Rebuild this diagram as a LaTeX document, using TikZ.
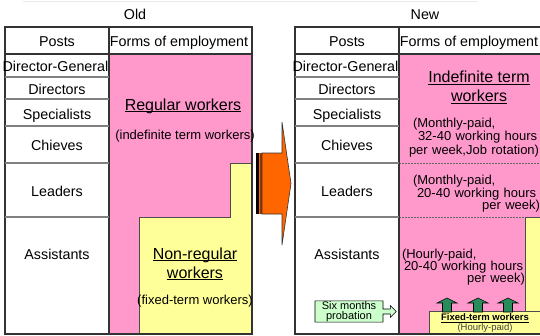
\documentclass[tikz,border=0pt]{standalone}
\usepackage{fontspec}
\setmainfont{Liberation Sans}
\usetikzlibrary{shapes.arrows}
\definecolor{pinkfill}{RGB}{255,153,204}
\definecolor{yellowfill}{RGB}{255,255,153}
\definecolor{orangearr}{RGB}{255,102,0}
\definecolor{greenarr}{RGB}{38,140,92}
\definecolor{greenbox}{RGB}{204,255,204}
\setlength{\lineskiplimit}{-5pt}
\newcommand{\ulined}[2][1.2pt]{\setbox0\hbox{#2}\rlap{\rule[-2.4pt]{\wd0}{#1}}\box0}

\begin{document}
\begin{tikzpicture}[x=1pt,y=-1pt,{frame/.style={draw=black!80,line width=1.2pt}},{rowline/.style={draw=black!50,line width=1.5pt}},{dotline/.style={draw=black!60,line width=1pt,dash pattern=on 1.5pt off 1.5pt}},{lbl/.style={font=\fontsize{14.3}{16}\selectfont,inner sep=0pt,anchor=base}},{big/.style={font=\fontsize{16}{18}\selectfont,inner sep=0pt,anchor=base}},{note/.style={font=\fontsize{13}{12}\selectfont,inner sep=0pt,align=left}},{greenup/.style={fill=greenarr,draw=black,line width=0.6pt}}]
	\useasboundingbox (0,0) rectangle (540,335);
	%%faint rule on top
	\draw [black!8,line width=1pt] (23,1) -- (478,1);
	%%titles
	\node[lbl] (oldTitle) at (135,19.5) {Old};
	\node[lbl] (newTitle) at (425,19.5) {New};

	%%old table
	\fill [pinkfill] (109,54) rectangle (252,334);
	\filldraw [fill=yellowfill,draw=black!70,line width=0.8pt] (139,334) -- (139,217) -- (230,217) -- (230,163) -- (252,163) -- (252,334) -- cycle;
	\draw [frame] (5,27) rectangle (252,334);
	\draw [frame] (5,54) -- (252,54);
	\draw [frame] (109,27) -- (109,334);
	\draw [rowline] (5,77) -- (109,77);
	\draw [rowline] (5,99) -- (109,99);
	\draw [rowline] (5,126) -- (109,126);
	\draw [rowline] (5,163) -- (109,163);
	\draw [rowline] (5,217) -- (109,217);
	\node[lbl] (oldPosts) at (57,46.5) {Posts};
	\node[lbl] (oldForms) at (179,46.5) {Forms of employment};
	\node[lbl] (oldDG) at (55.5,71) {Director-General};
	\node[lbl] (oldDir) at (57,94) {Directors};
	\node[lbl] (oldSpec) at (57,119) {Specialists};
	\node[lbl] (oldChief) at (57,150) {Chieves};
	\node[lbl] (oldLead) at (57,196) {Leaders};
	\node[lbl] (oldAssist) at (57,259) {Assistants};
	\node[big] (oldRegular) at (183,110) {\ulined{Regular workers}};
	\node[lbl,font=\fontsize{13}{14}\selectfont] (oldIndef) at (185,139) {(indefinite term workers)};
	\node[big] (oldNonreg) at (195,259) {\ulined{Non-regular}};
	\node[big] (oldNonregB) at (195,278) {\ulined{workers}};
	\node[lbl,font=\fontsize{13}{14}\selectfont] (oldFixed) at (195,304) {(fixed-term workers)};

	%%arrow between tables
	\fill [black] (256,153) rectangle (259,214);
	\fill [orangearr] (259,153) rectangle (260,214);
	\fill [orangearr!55!black] (260,153) rectangle (262,214);
	\filldraw [fill=orangearr,draw=black!80,line width=0.6pt] (262,153) -- (282,153) -- (282,122) -- (291,183.5) -- (282,245) -- (282,214) -- (262,214) -- cycle;

	%%new table
	\fill [pinkfill] (399,54) rectangle (541,334);
	\draw [dotline] (399,163) -- (541,163);
	\draw [dotline] (399,217) -- (541,217);
	\filldraw [fill=yellowfill,draw=black!70,line width=0.8pt] (525,217) rectangle (541,334);
	\filldraw [fill=yellowfill,draw=black!70,line width=0.8pt] (429,311) rectangle (541,334);
	\draw [frame] (541,27) -- (295,27) -- (295,334) -- (541,334);
	\draw [frame] (295,54) -- (541,54);
	\draw [frame] (399,27) -- (399,334);
	\draw [rowline] (295,77) -- (399,77);
	\draw [rowline] (295,99) -- (399,99);
	\draw [rowline] (295,126) -- (399,126);
	\draw [rowline] (295,163) -- (399,163);
	\draw [rowline] (295,217) -- (399,217);
	\node[lbl] (newPosts) at (347,46.5) {Posts};
	\node[lbl] (newForms) at (469,46.5) {Forms of employment};
	\node[lbl] (newDG) at (345.5,71) {Director-General};
	\node[lbl] (newDir) at (347,94) {Directors};
	\node[lbl] (newSpec) at (347,119) {Specialists};
	\node[lbl] (newChief) at (347,150) {Chieves};
	\node[lbl] (newLead) at (347,196) {Leaders};
	\node[lbl] (newAssist) at (347,259) {Assistants};
	\node[big] (newIndef) at (479,82.5) {\ulined{Indefinite term}};
	\node[big] (newIndefB) at (479,101.5) {\ulined{workers}};
	\node[note,text width=129pt] (newChiefNote) at (473.5,137.6) {\hspace*{4pt}(Monthly-paid,\\\hspace*{9pt}32-40 working hours\\\mbox{per week,Job rotation)}};
	\node[note,text width=127pt,font=\fontsize{13}{12.5}\selectfont] (newLeadNote) at (476.5,194.1) {(Monthly-paid,\\\hspace*{4pt}20-40 working hours\\\hfill per week)};
	\node[note,text width=123pt,font=\fontsize{13}{12.2}\selectfont] (newAssistNote) at (463.5,267.1) {(Hourly-paid,\\\hspace*{2pt}20-40 working hours\\\hfill per week)};

	%%fixed-term box and arrows
	\node[lbl,font=\fontsize{9.5}{10}\selectfont\bfseries] (newFixed) at (485,320) {\ulined[0.8pt]{Fixed-term workers}};
	\node[lbl,font=\fontsize{9.5}{10}\selectfont,text=black!75] (newHourly) at (485,330) {(Hourly-paid)};
	\filldraw [greenup] (442.5,312) -- (442.5,303) -- (437,303) -- (447,298) -- (457,303) -- (451.5,303) -- (451.5,312) -- cycle;
	\filldraw [greenup] (473.5,312) -- (473.5,303) -- (468,303) -- (478,298) -- (488,303) -- (482.5,303) -- (482.5,312) -- cycle;
	\filldraw [greenup] (503.5,312) -- (503.5,303) -- (498,303) -- (508,298) -- (518,303) -- (512.5,303) -- (512.5,312) -- cycle;
	\node[arrow box,draw=black,fill=greenbox,line width=0.6pt,inner sep=0.5pt,minimum width=68,minimum height=19,arrow box arrows={east:13pt from border},arrow box shaft width=5pt,arrow box head extend=3.5pt,arrow box head indent=0pt,font=\fontsize{11}{10}\selectfont,align=center] (probation) at (349,311.5) {Six months\\probation};
\end{tikzpicture}
\end{document}
